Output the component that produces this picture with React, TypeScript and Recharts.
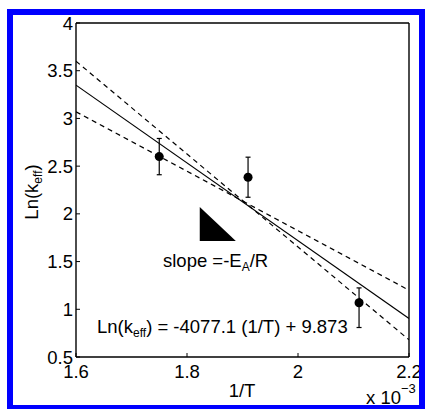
import React from "react";
import {
  ComposedChart,
  Line,
  Area,
  Scatter,
  ErrorBar,
  XAxis,
  YAxis,
} from "recharts";

// 1/T values are in units of 1e-3
const xTicks = [1.6, 1.8, 2.0, 2.2];
const yTicks = [0.5, 1, 1.5, 2, 2.5, 3, 3.5, 4];

const measured = [
  { x: 1.75, y: 2.6, err: [0.19, 0.19] },
  { x: 1.91, y: 2.384, err: [0.21, 0.21] },
  { x: 2.11, y: 1.069, err: [0.26, 0.155] },
];

// best fit  Ln(keff) = -4077.1 (1/T) + 9.873
const fitLine = [
  { x: 1.6, y: 3.349 },
  { x: 2.2, y: 0.904 },
];
// dashed bounds
const boundSteep = [
  { x: 1.6, y: 3.6 },
  { x: 2.2, y: 0.68 },
];
const boundShallow = [
  { x: 1.6, y: 3.07 },
  { x: 2.2, y: 1.2 },
];

// slope marker triangle, [low, high]
const slopeTriangle = [
  { x: 1.823, band: [1.716, 2.072] },
  { x: 1.888, band: [1.716, 1.716] },
];

const W = 425;
const H = 409;
const FONT = "'Liberation Sans', Arial, Helvetica, sans-serif";
const FS = 18.5;
const SUB = 12;
const tickStyle = { fontFamily: FONT, fontSize: FS, fill: "#000" };
const axisLine = { stroke: "#000", strokeWidth: 1.4 };
const tickLine = { stroke: "#000", strokeWidth: 1 };

const fmtX = (v: number) => (Math.abs(v - 2) < 1e-9 ? "2" : String(v));

export default function App() {
  return (
    <div
      style={{
        position: "absolute",
        left: 0,
        top: 0,
        width: W,
        height: H,
        background: "#fff",
        overflow: "hidden",
      }}
    >
      <div style={{ position: "absolute", left: 0, top: 0 }}>
        <ComposedChart
          width={W}
          height={H}
          margin={{ top: 22, right: 15, bottom: 22, left: 16 }}
        >
          <XAxis
            xAxisId={0}
            dataKey="x"
            type="number"
            domain={[1.6, 2.2]}
            ticks={xTicks}
            tickFormatter={fmtX}
            allowDataOverflow
            height={30}
            tick={tickStyle}
            tickSize={-4}
            tickMargin={12}
            axisLine={axisLine}
            tickLine={tickLine}
          />
          <XAxis
            xAxisId="top"
            orientation="top"
            dataKey="x"
            type="number"
            domain={[1.6, 2.2]}
            ticks={xTicks}
            allowDataOverflow
            height={1}
            tick={false}
            tickSize={-4}
            axisLine={axisLine}
            tickLine={tickLine}
          />
          <YAxis
            yAxisId={0}
            type="number"
            domain={[0.5, 4]}
            ticks={yTicks}
            allowDataOverflow
            width={60}
            tick={tickStyle}
            tickSize={-4}
            tickMargin={7}
            axisLine={axisLine}
            tickLine={tickLine}
          />
          <YAxis
            yAxisId="right"
            orientation="right"
            type="number"
            domain={[0.5, 4]}
            ticks={yTicks}
            allowDataOverflow
            width={1}
            tick={false}
            tickSize={-4}
            axisLine={axisLine}
            tickLine={tickLine}
          />
          <Area
            data={slopeTriangle}
            dataKey="band"
            type="linear"
            stroke="none"
            fill="#000"
            fillOpacity={1}
            isAnimationActive={false}
          />
          <Line
            data={boundSteep}
            dataKey="y"
            type="linear"
            stroke="#000"
            strokeWidth={1.2}
            strokeDasharray="5 4"
            dot={false}
            isAnimationActive={false}
          />
          <Line
            data={boundShallow}
            dataKey="y"
            type="linear"
            stroke="#000"
            strokeWidth={1.2}
            strokeDasharray="5 4"
            dot={false}
            isAnimationActive={false}
          />
          <Line
            data={fitLine}
            dataKey="y"
            type="linear"
            stroke="#000"
            strokeWidth={1.2}
            dot={false}
            isAnimationActive={false}
          />
          <Scatter data={measured} dataKey="y" fill="#000" isAnimationActive={false}>
            <ErrorBar
              dataKey="err"
              direction="y"
              width={2.5}
              stroke="#000"
              strokeWidth={1.2}
            />
          </Scatter>
        </ComposedChart>
      </div>
      <svg
        width={W}
        height={H}
        style={{ position: "absolute", left: 0, top: 0, pointerEvents: "none" }}
        fontFamily={FONT}
        fill="#000"
      >
        <text x={163} y={267} fontSize={FS}>
          slope =-E
          <tspan fontSize={SUB} dy={4}>A</tspan>
          <tspan dy={-4}>/R</tspan>
        </text>
        <text x={97} y={333} fontSize={FS}>
          Ln(k
          <tspan fontSize={SUB} dy={4}>eff</tspan>
          <tspan dy={-4}>) = -4077.1 (1/T) + 9.873</tspan>
        </text>
        <text x={242} y={397} fontSize={FS} textAnchor="middle">
          1/T
        </text>
        <text x={366} y={404} fontSize={FS}>
          x 10
          <tspan fontSize={13} dy={-11}>−3</tspan>
        </text>
        <text
          x={38}
          y={192}
          fontSize={FS}
          textAnchor="middle"
          transform="rotate(-90 38 192)"
        >
          Ln(k
          <tspan fontSize={SUB} dy={4}>eff</tspan>
          <tspan dy={-4}>)</tspan>
        </text>
      </svg>
      <div
        style={{
          position: "absolute",
          left: 7,
          top: 9,
          width: 418,
          height: 400,
          boxSizing: "border-box",
          borderStyle: "solid",
          borderColor: "#0000ff",
          borderWidth: "6px 6px 4px 6px",
        }}
      />
    </div>
  );
}
